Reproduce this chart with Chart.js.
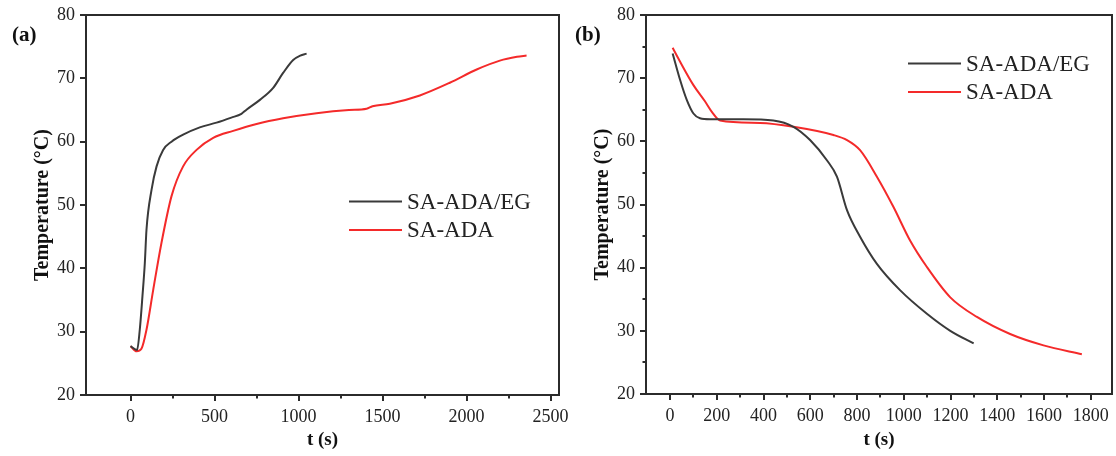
<!DOCTYPE html>
<html>
<head>
<meta charset="utf-8">
<script src="https://cdn.jsdelivr.net/npm/chart.js@4.4.1/dist/chart.umd.min.js"></script>
<style>
  html, body { margin: 0; padding: 0; background: #fff; }
  #wrap { position: relative; width: 1116px; height: 456px; }
  canvas { position: absolute; top: 0; }
  #chart-a { left: 0; }
  #chart-b { left: 560px; }
</style>
</head>
<body>
<div id="wrap">
  <!-- o canvas (a) é um pouco mais largo para o rótulo "2500" caber -->
  <canvas id="chart-a" width="580" height="456"></canvas>
  <canvas id="chart-b" width="556" height="456"></canvas>
</div>
<script>
// ===================== dados =====================
// (a) heating
const tHeatEG = [0, 39, 55, 71, 85, 95, 125, 155, 194, 244, 313, 412, 512, 600, 660, 690, 770, 849, 908, 968, 1010, 1048];
const THeatEG = [27.7, 27.1, 30.3, 35.6, 40.8, 46.1, 52.4, 56.1, 58.7, 60.0, 61.1, 62.25, 63.0, 63.8, 64.4, 65.05, 66.6, 68.5, 70.85, 72.9, 73.6, 73.9];
const tHeatADA = [0, 36, 65, 95, 135, 184, 244, 313, 393, 492, 611, 750, 908, 1107, 1300, 1405, 1440, 1543, 1722, 1900, 2060, 2198, 2300, 2357];
const THeatADA = [27.7, 26.9, 27.3, 30.3, 36.6, 44.0, 51.4, 56.1, 58.7, 60.6, 61.7, 62.8, 63.7, 64.5, 65.0, 65.2, 65.6, 66.0, 67.3, 69.3, 71.4, 72.8, 73.4, 73.6];

// (b) cooling
const tCoolEG = [11, 43, 71, 100, 128, 171, 314, 442, 528, 599, 671, 714, 757, 813, 885, 985, 1099, 1199, 1299];
const TCoolEG = [73.9, 69.7, 66.6, 64.4, 63.65, 63.5, 63.5, 63.3, 62.3, 60.2, 57.0, 54.4, 49.1, 44.9, 40.6, 36.4, 32.7, 30.0, 28.0];
const tCoolADA = [11, 43, 100, 150, 178, 214, 385, 528, 699, 757, 813, 885, 956, 1027, 1099, 1199, 1313, 1455, 1598, 1762];
const TCoolADA = [74.8, 72.6, 68.9, 66.3, 64.7, 63.3, 62.9, 62.3, 61.0, 60.2, 58.6, 54.4, 49.6, 44.3, 40.1, 35.3, 32.2, 29.5, 27.7, 26.3];

const seriesNames = ['SA-ADA/EG', 'SA-ADA'];

// ticks
const yTicks = [20, 30, 40, 50, 60, 70, 80];
const yMinorB = [25, 35, 45, 55, 65, 75];
const xTicksA = [0, 500, 1000, 1500, 2000, 2500];
const xMinorA = [250, 750, 1250, 1750, 2250];
const xTicksB = [0, 200, 400, 600, 800, 1000, 1200, 1400, 1600, 1800];
const xMinorB = [100, 300, 500, 700, 900, 1100, 1300, 1500, 1700];

const SERIF = "'Liberation Serif', 'Times New Roman', serif";
const INK = '#2b2b2b';
const COR_EG = '#3a3a3a';
const COR_ADA = '#f42a2a';

const pares = (xs, ys) => xs.map((x, i) => ({ x, y: ys[i] }));

// moldura, ticks menores, títulos dos eixos, rótulo do painel e legenda
const moldura = {
  id: 'moldura',
  afterDraw(chart, args, o) {
    const { ctx, chartArea: a, scales } = chart;
    ctx.save();
    ctx.strokeStyle = INK;
    ctx.lineWidth = 2;
    ctx.strokeRect(a.left, a.top, a.right - a.left, a.bottom - a.top);

    ctx.lineWidth = 2;
    ctx.beginPath();
    for (const v of o.minorX) {
      const x = Math.round(scales.x.getPixelForValue(v));
      ctx.moveTo(x, a.bottom); ctx.lineTo(x, a.bottom + 3.5);
    }
    for (const v of o.minorY) {
      const y = Math.round(scales.y.getPixelForValue(v));
      ctx.moveTo(a.left, y); ctx.lineTo(a.left - 3.5, y);
    }
    ctx.stroke();

    ctx.fillStyle = '#111';
    ctx.font = `bold 19px ${SERIF}`;
    ctx.textAlign = 'center';
    ctx.textBaseline = 'middle';
    ctx.fillText('t (s)', (a.left + a.right) / 2, 440);

    ctx.save();
    ctx.font = `bold 20px ${SERIF}`;
    ctx.translate(43, (a.top + a.bottom) / 2);
    ctx.rotate(-Math.PI / 2);
    ctx.fillText('Temperature (°C)', 0, 0);
    ctx.restore();

    ctx.font = `bold 21px ${SERIF}`;
    ctx.textAlign = 'left';
    ctx.fillText(o.painel, o.painelX, 36);

    // legenda
    ctx.font = `23px ${SERIF}`;
    chart.data.datasets.forEach((ds, i) => {
      const y = o.legY + i * 28.5;
      ctx.strokeStyle = ds.borderColor;
      ctx.lineWidth = 2;
      ctx.beginPath();
      ctx.moveTo(o.legX, y); ctx.lineTo(o.legX + 53, y);
      ctx.stroke();
      ctx.fillStyle = '#222';
      ctx.fillText(ds.label, o.legX + 58, y + 1);
    });
    ctx.restore();
  }
};

function eixo(min, max, ticks, extra) {
  return Object.assign({
    type: 'linear',
    min, max,
    afterBuildTicks: s => { s.ticks = ticks.map(v => ({ value: v })); },
    grid: { drawOnChartArea: false, drawTicks: true, tickLength: 6, color: INK, lineWidth: 2 },
    border: { display: true, color: INK, width: 2 },
    ticks: { color: '#222', padding: 5, font: { family: SERIF, size: 18 }, callback: v => String(v) },
  }, extra);
}

function montarGrafico(canvasId, dados, cfg) {
  return new Chart(document.getElementById(canvasId), {
    type: 'line',
    data: {
      datasets: [
        { label: seriesNames[0], data: dados[0], borderColor: COR_EG, borderWidth: 2, pointRadius: 0, cubicInterpolationMode: 'monotone' },
        { label: seriesNames[1], data: dados[1], borderColor: COR_ADA, borderWidth: 2, pointRadius: 0, cubicInterpolationMode: 'monotone' },
      ]
    },
    options: {
      responsive: false,
      animation: false,
      layout: { padding: { top: 15, right: cfg.padRight, left: 0, bottom: 0 } },
      plugins: {
        legend: { display: false },
        tooltip: { enabled: false },
        moldura: cfg.moldura,
      },
      scales: {
        // o último rótulo pode passar da moldura, sem encolher a área
        x: eixo(cfg.xMin, cfg.xMax, cfg.xTicks, {
          afterFit: s => { s.height = cfg.xHeight; s.paddingLeft = 0; s.paddingRight = 0; },
        }),
        y: eixo(20, 80, yTicks, {
          afterFit: s => { s.width = 86; s.paddingTop = 0; s.paddingBottom = 0; },
        }),
      }
    },
    plugins: [moldura]
  });
}

montarGrafico('chart-a', [pares(tHeatEG, THeatEG), pares(tHeatADA, THeatADA)], {
  xMin: -265, xMax: 2550, xTicks: xTicksA, xHeight: 61, padRight: 21,
  moldura: { minorX: xMinorA, minorY: [], painel: '(a)', painelX: 12, legX: 349, legY: 201.5 },
});
montarGrafico('chart-b', [pares(tCoolEG, TCoolEG), pares(tCoolADA, TCoolADA)], {
  xMin: -103, xMax: 1891, xTicks: xTicksB, xHeight: 62, padRight: 4,
  moldura: { minorX: xMinorB, minorY: yMinorB, painel: '(b)', painelX: 15, legX: 348, legY: 63.5 },
});
</script>
</body>
</html>
